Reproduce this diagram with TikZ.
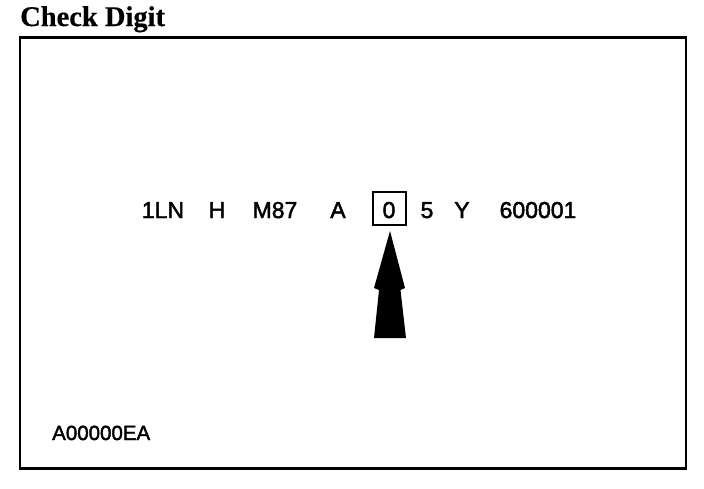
\documentclass[tikz,border=0pt]{standalone}
\usepackage{fontspec}
\setmainfont{Liberation Sans}[FakeBold=2]
\newfontfamily\titlefont{Liberation Serif}[FakeBold=0.5]
\begin{document}
\begin{tikzpicture}[x=1pt,y=-1pt,
  tok/.style={inner sep=0pt,anchor=base,font=\fontsize{23}{24}\selectfont},
  frame/.style={draw=black,line width=2.6pt},
  digitbox/.style={draw=black,line width=2pt}]
\useasboundingbox (0,0) rectangle (704,488);
\node[inner sep=0pt,anchor=base west,font=\titlefont\bfseries\fontsize{28.5}{30}\selectfont] (title) at (20,26) {Check Digit};
\draw[frame] (20,37.5) rectangle (686,468.5);
\node[tok] (t1) at (163,218) {1LN};
\node[tok] (t2) at (217,218) {H};
\node[tok] (t3) at (275,218) {M87};
\node[tok] (t4) at (338,218) {A};
\node[tok] (t5) at (389,218) {0};
\node[tok] (t6) at (427,218) {5};
\node[tok] (t7) at (462,218) {Y};
\node[tok] (t8) at (538,218) {600001};
\draw[digitbox] (373,192) rectangle (406,225);
\coordinate (tip) at (390,231);
\fill[black] (tip) -- (405,288) -- (400.5,290) -- (406,338) -- (374,338) -- (379,290) -- (374,288) -- cycle;
\node[inner sep=0pt,anchor=base west,font=\fontsize{20.5}{22}\selectfont] (code) at (52,440) {A00000EA};
\end{tikzpicture}
\end{document}
